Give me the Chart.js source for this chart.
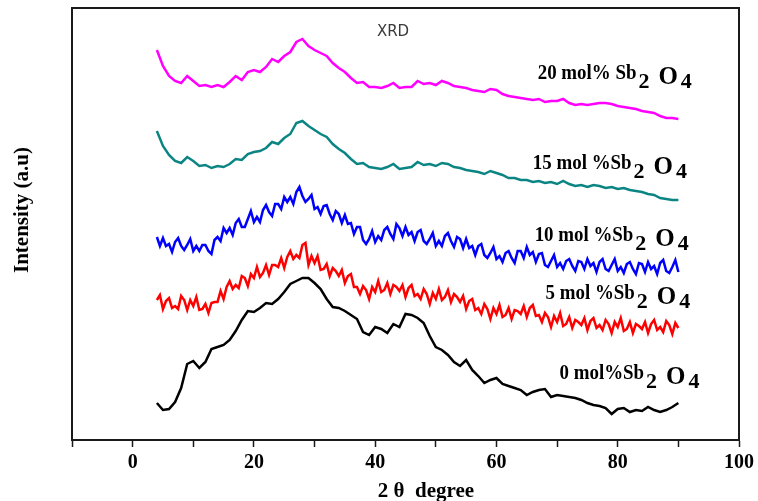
<!DOCTYPE html>
<html>
<head>
<meta charset="utf-8">
<title>XRD</title>
<script src="https://cdn.jsdelivr.net/npm/chart.js@4.4.1/dist/chart.umd.min.js"></script>
<style>
  html, body { margin: 0; padding: 0; background: #fff; }
  #wrap { width: 758px; height: 501px; position: relative; }
</style>
</head>
<body>
<div id="wrap"><canvas id="xrd"></canvas></div>
<script>
/* ── sampling grids (2θ, degree) ── */
const X1 = [
  4,5,6,7,8,9,10,11,12,13,
  14,15,16,17,18,19,20,21,22,23,
  24,25,26,27,28,29,30,31,32,33,
  34,35,36,37,38,39,40,41,42,43,
  44,45,46,47,48,49,50,51,52,53,
  54,55,56,57,58,59,60,61,62,63,
  64,65,66,67,68,69,70,71,72,73,
  74,75,76,77,78,79,80,81,82,83,
  84,85,86,87,88,89,90
];
const X2 = [
  4,4.5,5,5.5,6,6.5,7,7.5,8,8.5,9,9.5,10,10.5,11,11.5,12,12.5,13,13.5,
  14,14.5,15,15.5,16,16.5,17,17.5,18,18.5,19,19.5,20,20.5,21,21.5,22,22.5,23,23.5,
  24,24.5,25,25.5,26,26.5,27,27.5,28,28.5,29,29.5,30,30.5,31,31.5,32,32.5,33,33.5,
  34,34.5,35,35.5,36,36.5,37,37.5,38,38.5,39,39.5,40,40.5,41,41.5,42,42.5,43,43.5,
  44,44.5,45,45.5,46,46.5,47,47.5,48,48.5,49,49.5,50,50.5,51,51.5,52,52.5,53,53.5,
  54,54.5,55,55.5,56,56.5,57,57.5,58,58.5,59,59.5,60,60.5,61,61.5,62,62.5,63,63.5,
  64,64.5,65,65.5,66,66.5,67,67.5,68,68.5,69,69.5,70,70.5,71,71.5,72,72.5,73,73.5,
  74,74.5,75,75.5,76,76.5,77,77.5,78,78.5,79,79.5,80,80.5,81,81.5,82,82.5,83,83.5,
  84,84.5,85,85.5,86,86.5,87,87.5,88,88.5,89,89.5,90
];

/* ── intensities (a.u., stacked offsets as in the figure) ── */
const SB20 = [   // 20 mol% — on X1
  390,374,364,359,357,364,359,354,355,353,
  355,353,358,364,360,368,370,368,373,381,
  378,384,388,398,401,394,390,387,384,377,
  372,368,362,357,358,353,353,352,354,357,
  352,353,353,359,356,357,355,359,357,354,
  353,352,350,349,348,351,350,346,344,343,
  342,341,340,341,338,339,339,341,337,335,
  336,335,336,337,337,336,334,333,332,331,
  329,328,327,324,322,322,321
];
const SB15 = [   // 15 mol% — on X1
  309,294,285,279,277,283,279,274,275,272,
  274,273,276,281,280,286,288,289,292,298,
  296,302,306,317,319,314,310,306,303,296,
  291,287,281,276,277,273,272,271,273,276,
  271,272,273,278,275,276,274,277,276,273,
  272,270,269,268,266,269,267,265,262,262,
  260,260,258,259,257,258,256,259,256,254,
  255,253,255,254,252,253,251,252,250,249,
  248,246,245,242,241,240,240
];
const SB10 = [   // 10 mol% — on X2
  203,194,202,194,196,188,198,202,194,190,195,201,189,194,189,195,195,189,186,200,
  203,199,212,207,212,205,217,221,213,213,221,229,218,223,218,230,235,228,224,236,
  236,231,243,238,243,236,248,253,244,238,241,245,231,233,226,234,235,226,220,229,
  226,217,225,216,217,206,213,213,200,196,201,209,198,204,200,210,213,206,201,216,
  212,204,213,205,208,199,208,210,199,196,201,207,194,199,194,204,207,199,193,203,
  201,192,201,192,194,185,194,196,185,182,187,193,181,184,178,187,189,182,177,189,
  189,182,193,185,188,178,186,187,175,173,179,185,173,177,171,179,181,174,169,179,
  178,171,181,174,177,168,178,181,171,169,175,181,169,173,167,176,178,171,166,177,
  176,168,178,171,174,166,177,180,169,167,173,180,
  168
];
const SB5 = [    // 5 mol% — on X2
  140,145,131,139,142,132,134,131,144,140,130,140,134,143,130,131,136,127,137,138,
  138,149,141,153,159,151,155,152,164,162,154,166,162,173,163,167,175,165,175,175,
  173,182,172,183,189,181,185,182,195,197,175,184,177,184,170,171,176,164,172,169,
  164,170,157,164,166,153,153,146,154,150,141,153,148,159,148,150,157,146,155,153,
  149,155,143,152,155,144,146,141,151,146,136,147,141,151,140,143,150,138,146,143,
  138,144,131,139,141,130,132,126,136,131,121,132,126,135,123,125,132,121,130,129,
  126,134,123,132,135,124,125,118,127,123,113,124,118,127,114,116,123,112,120,118,
  115,122,110,119,122,112,115,110,120,116,107,118,113,122,109,111,118,107,116,114,
  111,118,107,116,120,110,113,108,119,115,106,117,
  112
];
const SB0 = [    // 0 mol% — on X1
  37,30,31,38,52,76,79,72,78,91,
  93,95,100,109,120,129,128,132,137,136,
  141,148,156,159,162,162,157,151,141,133,
  132,129,125,121,108,105,113,111,107,116,
  113,126,125,122,117,104,93,90,85,78,
  74,80,70,64,57,60,62,56,54,52,
  50,45,48,50,51,43,45,44,43,42,
  40,37,35,34,32,26,31,32,28,30,
  29,33,30,28,30,33,37
];

/* ── curve labels: text head, anchor (2θ, intensity) ── */
const LABEL_HEAD = ['20 mol% Sb', '15 mol %Sb', '10 mol %Sb', '5 mol %Sb', '0 mol%Sb'];
const LABEL_AT_X = [66.8, 66.0, 66.3, 68.1, 70.4];
const LABEL_AT_Y = [361, 271, 199, 141, 61];

/* ── colours ── */
const C = {
  magenta: '#ff00ff',
  teal   : '#0b8583',
  blue   : '#0000ff',
  red    : '#ff0000',
  black  : '#000000',
  axis   : '#1a1a1a',
};

const SERIF = '"Liberation Serif", "Times New Roman", serif';

function pts(xs, ys) { return xs.map((x, i) => ({ x, y: ys[i] })); }

function line(label, xs, ys, color, w) {
  return {
    label,
    data: pts(xs, ys),
    borderColor: color,
    backgroundColor: color,
    borderWidth: w,
    pointRadius: 0,
    tension: 0,
    fill: false,
  };
}

/* frame, title, curve labels, axis titles */
const decoPlugin = {
  id: 'deco',
  afterDraw(chart) {
    const { ctx, chartArea: a, scales: { x, y } } = chart;
    ctx.save();

    ctx.strokeStyle = C.axis;
    ctx.lineWidth = 2;
    ctx.strokeRect(a.left, a.top, a.right - a.left, a.bottom - a.top);

    ctx.fillStyle = '#3a3a3a';
    ctx.font = '15px "DejaVu Sans", sans-serif';
    ctx.textAlign = 'center';
    ctx.textBaseline = 'middle';
    ctx.fillText('XRD', 393, 32);

    ctx.fillStyle = '#000';
    ctx.textAlign = 'left';
    ctx.textBaseline = 'alphabetic';
    LABEL_HEAD.forEach((head, i) => {
      const px = x.getPixelForValue(LABEL_AT_X[i]);
      const py = y.getPixelForValue(LABEL_AT_Y[i]);
      /* head is a bit condensed in the original */
      ctx.save();
      ctx.translate(px, py);
      ctx.scale(0.9, 1);
      ctx.font = 'bold 21px ' + SERIF;
      ctx.fillText(head, 0, 0);
      let cx = px + ctx.measureText(head).width * 0.9 + 2;
      ctx.restore();
      /* Sb2O4 tail: subscripts set low */
      const segs = [['2', 9, 22, 9], ['O', 5, 25, 3], ['4', 9, 22, 0]];
      segs.forEach(([t, dy, fs, gap]) => {
        ctx.font = 'bold ' + fs + 'px ' + SERIF;
        ctx.fillText(t, cx, py + dy);
        cx += ctx.measureText(t).width + gap;
      });
    });

    ctx.font = 'bold 21px ' + SERIF;
    ctx.textAlign = 'center';
    ctx.textBaseline = 'alphabetic';
    ctx.fillText('2 \u03b8  degree', 426, 497);

    ctx.save();
    ctx.translate(28, 210);
    ctx.rotate(-Math.PI / 2);
    ctx.font = 'bold 21px ' + SERIF;
    ctx.fillText('Intensity (a.u)', 0, 0);
    ctx.restore();

    ctx.restore();
  },
};

new Chart(document.getElementById('xrd'), {
  type: 'line',
  data: {
    datasets: [
      line('20 mol% Sb2O4', X1, SB20, C.magenta, 2.5),
      line('15 mol% Sb2O4', X1, SB15, C.teal, 2.5),
      line('10 mol% Sb2O4', X2, SB10, C.blue, 2.5),
      line('5 mol% Sb2O4', X2, SB5, C.red, 2.5),
      line('0 mol% Sb2O4', X1, SB0, C.black, 2.5),
    ],
  },
  options: {
    responsive: true,
    maintainAspectRatio: false,
    animation: false,
    layout: { padding: { top: 8, right: 17, left: 0, bottom: 0 } },
    plugins: { legend: { display: false }, tooltip: { enabled: false } },
    scales: {
      x: {
        type: 'linear',
        min: -10,
        max: 100,
        afterFit: s => { s.height = 61; },
        border: { display: true, color: C.axis, width: 2 },
        grid: { display: true, drawOnChartArea: false, drawTicks: true, tickLength: 7, tickColor: C.axis, tickWidth: 1.5 },
        ticks: {
          stepSize: 10,
          autoSkip: false,
          maxRotation: 0,
          padding: 4,
          color: '#000',
          font: { family: SERIF, size: 20, weight: 'bold' },
          callback: v => (v % 20 === 0 ? String(v) : ''),
        },
      },
      y: {
        min: 0,
        max: 432,
        afterFit: s => { s.width = 72; },
        border: { display: true, color: C.axis, width: 2 },
        grid: { display: false },
        ticks: { display: false },
      },
    },
  },
  plugins: [decoPlugin],
});
</script>
</body>
</html>
